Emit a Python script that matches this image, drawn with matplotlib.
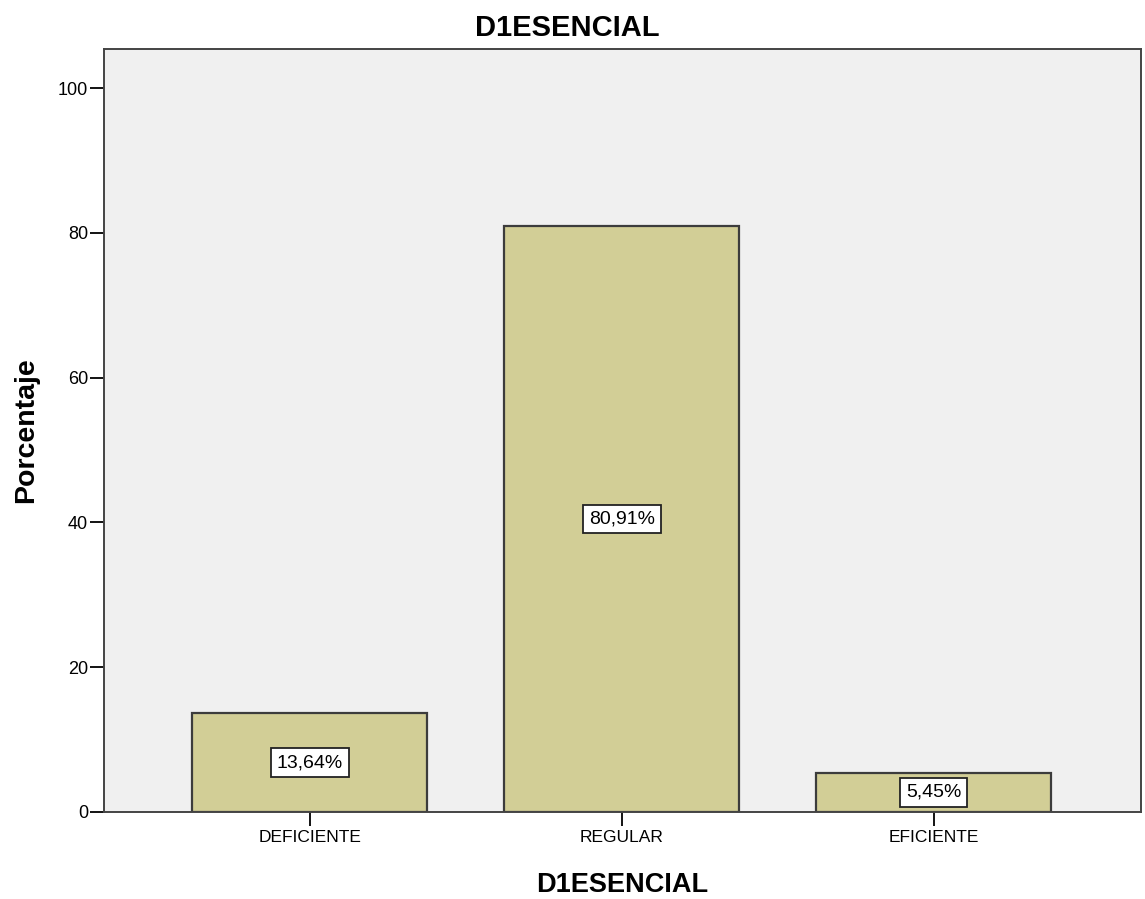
import matplotlib
matplotlib.use("Agg")
import matplotlib.pyplot as plt

plt.rcParams['font.family'] = ['Liberation Sans', 'DejaVu Sans']

# Data
categorias = ["DEFICIENTE", "REGULAR", "EFICIENTE"]
porcentajes = [13.64, 80.91, 5.45]
etiquetas = ["13,64%", "80,91%", "5,45%"]

fig = plt.figure(figsize=(11.45, 8.99), dpi=100)
ax = fig.add_axes([0.0908, 0.0968, 0.9057, 0.8487])
ax.set_facecolor("#F0F0F0")

pos = list(range(len(categorias)))
ax.bar(pos, porcentajes, width=0.753, color="#D2CE96", edgecolor="#3C3C3C", linewidth=1.6)

for x, v, t in zip(pos, porcentajes, etiquetas):
    ax.text(x, v / 2, t, ha="center", va="center", fontsize=14,
            bbox=dict(boxstyle="square,pad=0.3", facecolor="white", edgecolor="#222222", linewidth=1.3))

ax.set_xlim(-0.66, 2.665)
ax.set_ylim(0, 105.4)
ax.set_xticks(pos)
ax.set_xticklabels(categorias, fontsize=12.5)
ax.set_yticks([0, 20, 40, 60, 80, 100])
ax.tick_params(axis="y", labelsize=13, length=10, width=1.3, pad=1.5)
ax.tick_params(axis="x", length=10, width=1.3, pad=3)
for s in ax.spines.values():
    s.set_color("#444444")
    s.set_linewidth(1.4)

# Titles
fig.text(0.4956, 0.96, "D1ESENCIAL", ha="center", va="baseline", fontsize=21, fontweight="bold")
fig.text(0.5437, 0.0078, "D1ESENCIAL", ha="center", va="baseline", fontsize=19.5, fontweight="bold")
fig.text(0.0115, 0.521, "Porcentaje", ha="left", va="center", rotation=90, fontsize=20.5, fontweight="bold")

fig.savefig("out.png", dpi=100)
